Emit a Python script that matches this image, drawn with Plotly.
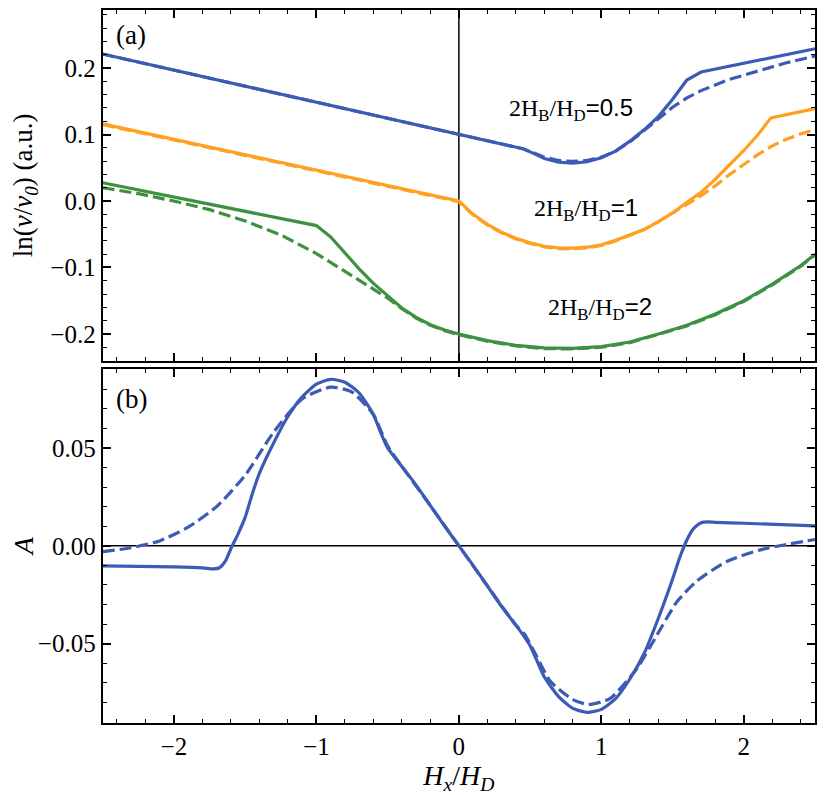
import plotly.graph_objects as go

# ---- panel (a): ln(v/v0) vs Hx/HD, solid and dashed for three 2HB/HD ----
blue_x = [-2.5, 0.0, 0.45, 0.52, 0.6, 0.7, 0.8, 0.9, 1.0, 1.1, 1.2, 1.3, 1.4, 1.5, 1.6, 1.7, 2.0, 2.5]
blue_y = [0.221, 0.1, 0.0785, 0.072, 0.064, 0.0585, 0.057, 0.059, 0.065, 0.075, 0.09, 0.107,
          0.127, 0.153, 0.182, 0.194, 0.207, 0.229]
blue_dash_x = [-2.5, 0.0, 0.45, 0.52, 0.6, 0.7, 0.8, 0.9, 1.0, 1.1, 1.2, 1.3, 1.4, 1.5, 1.6, 1.7,
               1.9, 2.1, 2.3, 2.5]
blue_dash_y = [0.221, 0.1, 0.0785, 0.073, 0.066, 0.061, 0.0595, 0.061, 0.066, 0.075, 0.089, 0.106,
               0.124, 0.141, 0.155, 0.166, 0.183, 0.196, 0.208, 0.218]

orange_x = [-2.5, 0.0, 0.1, 0.2, 0.3, 0.4, 0.5, 0.6, 0.7, 0.8, 0.9, 1.0, 1.1, 1.2, 1.3, 1.4, 1.5,
            1.6, 1.7, 1.8, 1.9, 2.0, 2.1, 2.19, 2.5]
orange_y = [0.116, 0.0, -0.02, -0.035, -0.047, -0.056, -0.063, -0.068, -0.0705, -0.071, -0.0695,
            -0.066, -0.059, -0.051, -0.043, -0.031, -0.018, -0.002, 0.013, 0.033, 0.054, 0.076,
            0.1, 0.125, 0.139]
orange_dash_x = [-2.5, 0.0, 0.1, 0.2, 0.3, 0.4, 0.5, 0.6, 0.7, 0.8, 0.9, 1.0, 1.1, 1.2, 1.3, 1.4,
                 1.5, 1.6, 1.7, 1.8, 1.9, 2.0, 2.1, 2.2, 2.3, 2.4, 2.5]
orange_dash_y = [0.115, -0.001, -0.021, -0.036, -0.048, -0.057, -0.064, -0.069, -0.0715, -0.072,
                 -0.0705, -0.067, -0.06, -0.052, -0.043, -0.031, -0.018, -0.005, 0.008, 0.023,
                 0.04, 0.055, 0.07, 0.083, 0.093, 0.101, 0.1075]

green_x = [-2.5, -1.0, -0.9, -0.8, -0.7, -0.6, -0.5, -0.4, -0.3, -0.2, -0.1, 0.0, 0.2, 0.4, 0.6,
           0.8, 1.0, 1.2, 1.4, 1.6, 1.8, 2.0, 2.2, 2.4, 2.5]
green_y = [0.0275, -0.037, -0.054, -0.078, -0.102, -0.124, -0.143, -0.161, -0.175, -0.186, -0.194,
           -0.2, -0.21, -0.217, -0.221, -0.2215, -0.219, -0.212, -0.2, -0.187, -0.17, -0.15,
           -0.125, -0.097, -0.08]
green_dash_x = [-2.5, -2.25, -2.0, -1.75, -1.5, -1.25, -1.0, -0.75, -0.5, -0.4, -0.3, -0.2, -0.1,
                0.0, 0.2, 0.4, 0.6, 0.8, 1.0, 1.2, 1.4, 1.6, 1.8, 2.0, 2.2, 2.4, 2.5]
green_dash_y = [0.02, 0.011, 0.0, -0.013, -0.03, -0.051, -0.079, -0.113, -0.146, -0.162, -0.176,
                -0.187, -0.195, -0.201, -0.211, -0.218, -0.222, -0.2225, -0.22, -0.213, -0.201,
                -0.188, -0.171, -0.151, -0.126, -0.098, -0.081]

# ---- panel (b): asymmetry A ----
asym_x = [-2.5, -2.0, -1.8, -1.72, -1.68, -1.64, -1.6, -1.55, -1.5, -1.45, -1.4, -1.3, -1.2, -1.1,
          -1.0, -0.9, -0.8, -0.7, -0.6, -0.55, -0.5, -0.4, -0.3, -0.2, -0.1, 0.0, 0.1, 0.2, 0.3,
          0.4, 0.46, 0.5, 0.55, 0.6, 0.7, 0.8, 0.9, 1.0, 1.1, 1.2, 1.3, 1.4, 1.5, 1.55, 1.6, 1.65,
          1.7, 1.75, 1.8, 2.0, 2.5]
asym_y = [-0.0102, -0.0108, -0.0113, -0.0118, -0.0112, -0.008, -0.0015, 0.006, 0.0145, 0.0265,
          0.037, 0.0525, 0.066, 0.076, 0.0825, 0.085, 0.0835, 0.078, 0.067, 0.058, 0.05, 0.0405,
          0.031, 0.0205, 0.01, 0.0, -0.01, -0.0205, -0.031, -0.0405, -0.0465, -0.051, -0.059,
          -0.067, -0.077, -0.083, -0.085, -0.0835, -0.078, -0.068, -0.055, -0.037, -0.017, -0.006,
          0.003, 0.009, 0.0118, 0.0122, 0.012, 0.0115, 0.0102]
asym_dash_x = [-2.5, -2.3, -2.1, -1.9, -1.7, -1.5, -1.3, -1.1, -0.9, -0.75, -0.6, -0.5, -0.4, -0.2,
               0.0, 0.2, 0.4, 0.46, 0.55, 0.64, 0.8, 0.91, 1.06, 1.25, 1.39, 1.53, 1.67, 1.88, 2.11,
               2.27, 2.5]
asym_dash_y = [-0.003, -0.001, 0.0025, 0.0095, 0.02, 0.036, 0.058, 0.075, 0.081, 0.0785, 0.067,
               0.051, 0.0405, 0.0205, 0.0, -0.0205, -0.0405, -0.045, -0.057, -0.069, -0.0785,
               -0.081, -0.078, -0.0626, -0.0456, -0.0286, -0.018, -0.008, -0.0022, 0.0003, 0.0032]

BLUE = "#3c5bb4"
ORANGE = "#ffa020"
GREEN = "#3d9140"
SERIF = "Liberation Serif"
DASH = "12px,5px"

fig = go.Figure()

top_curves = [
    (blue_x, blue_y, BLUE, "solid"), (blue_dash_x, blue_dash_y, BLUE, DASH),
    (orange_x, orange_y, ORANGE, "solid"), (orange_dash_x, orange_dash_y, ORANGE, DASH),
    (green_x, green_y, GREEN, "solid"), (green_dash_x, green_dash_y, GREEN, DASH),
]
for xs, ys, color, dash in top_curves:
    fig.add_trace(go.Scatter(x=xs, y=ys, mode="lines", xaxis="x", yaxis="y",
                             line=dict(color=color, width=3.2, dash=dash), showlegend=False))

# bottom panel curves are smooth, so use a gentle spline
for xs, ys, dash in [(asym_x, asym_y, "solid"), (asym_dash_x, asym_dash_y, DASH)]:
    fig.add_trace(go.Scatter(x=xs, y=ys, mode="lines", xaxis="x2", yaxis="y2",
                             line=dict(color=BLUE, width=3.2, dash=dash, shape="spline",
                                       smoothing=0.6),
                             showlegend=False))

axis_style = dict(
    showline=True, linecolor="black", linewidth=2, mirror="ticks",
    ticks="inside", ticklen=8, tickwidth=1.5, tickcolor="black",
    showgrid=False, zeroline=False,
    tickfont=dict(family=SERIF, size=25, color="black"),
)
minor_style = dict(ticks="inside", ticklen=4, tickwidth=1, tickcolor="black")

# page body has an 8px margin, so the figure is 822x787 and placed at (8, 8)
fig.update_layout(
    width=822, height=787,
    margin=dict(l=0, r=0, t=0, b=0),
    paper_bgcolor="white", plot_bgcolor="white",
    xaxis=dict(axis_style, domain=[0.1119, 0.9818], anchor="y", range=[-2.5, 2.5],
               dtick=1, showticklabels=False, minor=dict(minor_style, dtick=0.2)),
    yaxis=dict(axis_style, domain=[0.5527, 0.9985], anchor="x", range=[-0.24, 0.287],
               dtick=0.1, tickformat=".1f", minor=dict(minor_style, dtick=0.02),
               title=dict(text="ln(<i>ν</i>/<i>ν<sub>0</sub></i>) (a.u.)",
                          font=dict(family=SERIF, size=27, color="black"), standoff=10)),
    xaxis2=dict(axis_style, domain=[0.1119, 0.9818], anchor="y2", range=[-2.5, 2.5],
                dtick=1, minor=dict(minor_style, dtick=0.2),
                title=dict(text="<i>H<sub>x</sub></i>/<i>H<sub>D</sub></i>",
                           font=dict(family=SERIF, size=28, color="black"), standoff=0)),
    yaxis2=dict(axis_style, domain=[0.0915, 0.5426], anchor="x2", range=[-0.0905, 0.0905],
                dtick=0.05, tickformat=".2f", minor=dict(minor_style, dtick=0.01),
                title=dict(text="<i>A</i>", font=dict(family=SERIF, size=28, color="black"),
                           standoff=10)),
    shapes=[
        dict(type="line", xref="x", yref="y domain", x0=0, x1=0, y0=0, y1=1,
             line=dict(color="black", width=1.5), layer="below"),
        dict(type="line", xref="x2 domain", yref="y2", x0=0, x1=1, y0=0, y1=0,
             line=dict(color="black", width=1.5), layer="below"),
    ],
)

label_font = dict(family=SERIF, size=24, color="black")
sans = 'font-family:Liberation Sans'
annotations = [
    dict(x=0.79, y=0.1375, xref="x", yref="y",
         text=f'2H<sub>B</sub>/H<sub>D</sub><span style="{sans}">=0.5</span>'),
    dict(x=0.89, y=-0.0125, xref="x", yref="y",
         text=f'2H<sub>B</sub>/H<sub>D</sub><span style="{sans}">=1</span>'),
    dict(x=0.99, y=-0.162, xref="x", yref="y",
         text=f'2H<sub>B</sub>/H<sub>D</sub><span style="{sans}">=2</span>'),
    dict(x=0.016, y=0.93, xref="x domain", yref="y domain", text="(a)",
         xanchor="left", yanchor="middle", font=dict(family=SERIF, size=27, color="black")),
    dict(x=0.016, y=0.915, xref="x2 domain", yref="y2 domain", text="(b)",
         xanchor="left", yanchor="middle", font=dict(family=SERIF, size=27, color="black")),
]
for a in annotations:
    a.setdefault("font", label_font)
    fig.add_annotation(showarrow=False, **a)

fig.write_html("out.html")
